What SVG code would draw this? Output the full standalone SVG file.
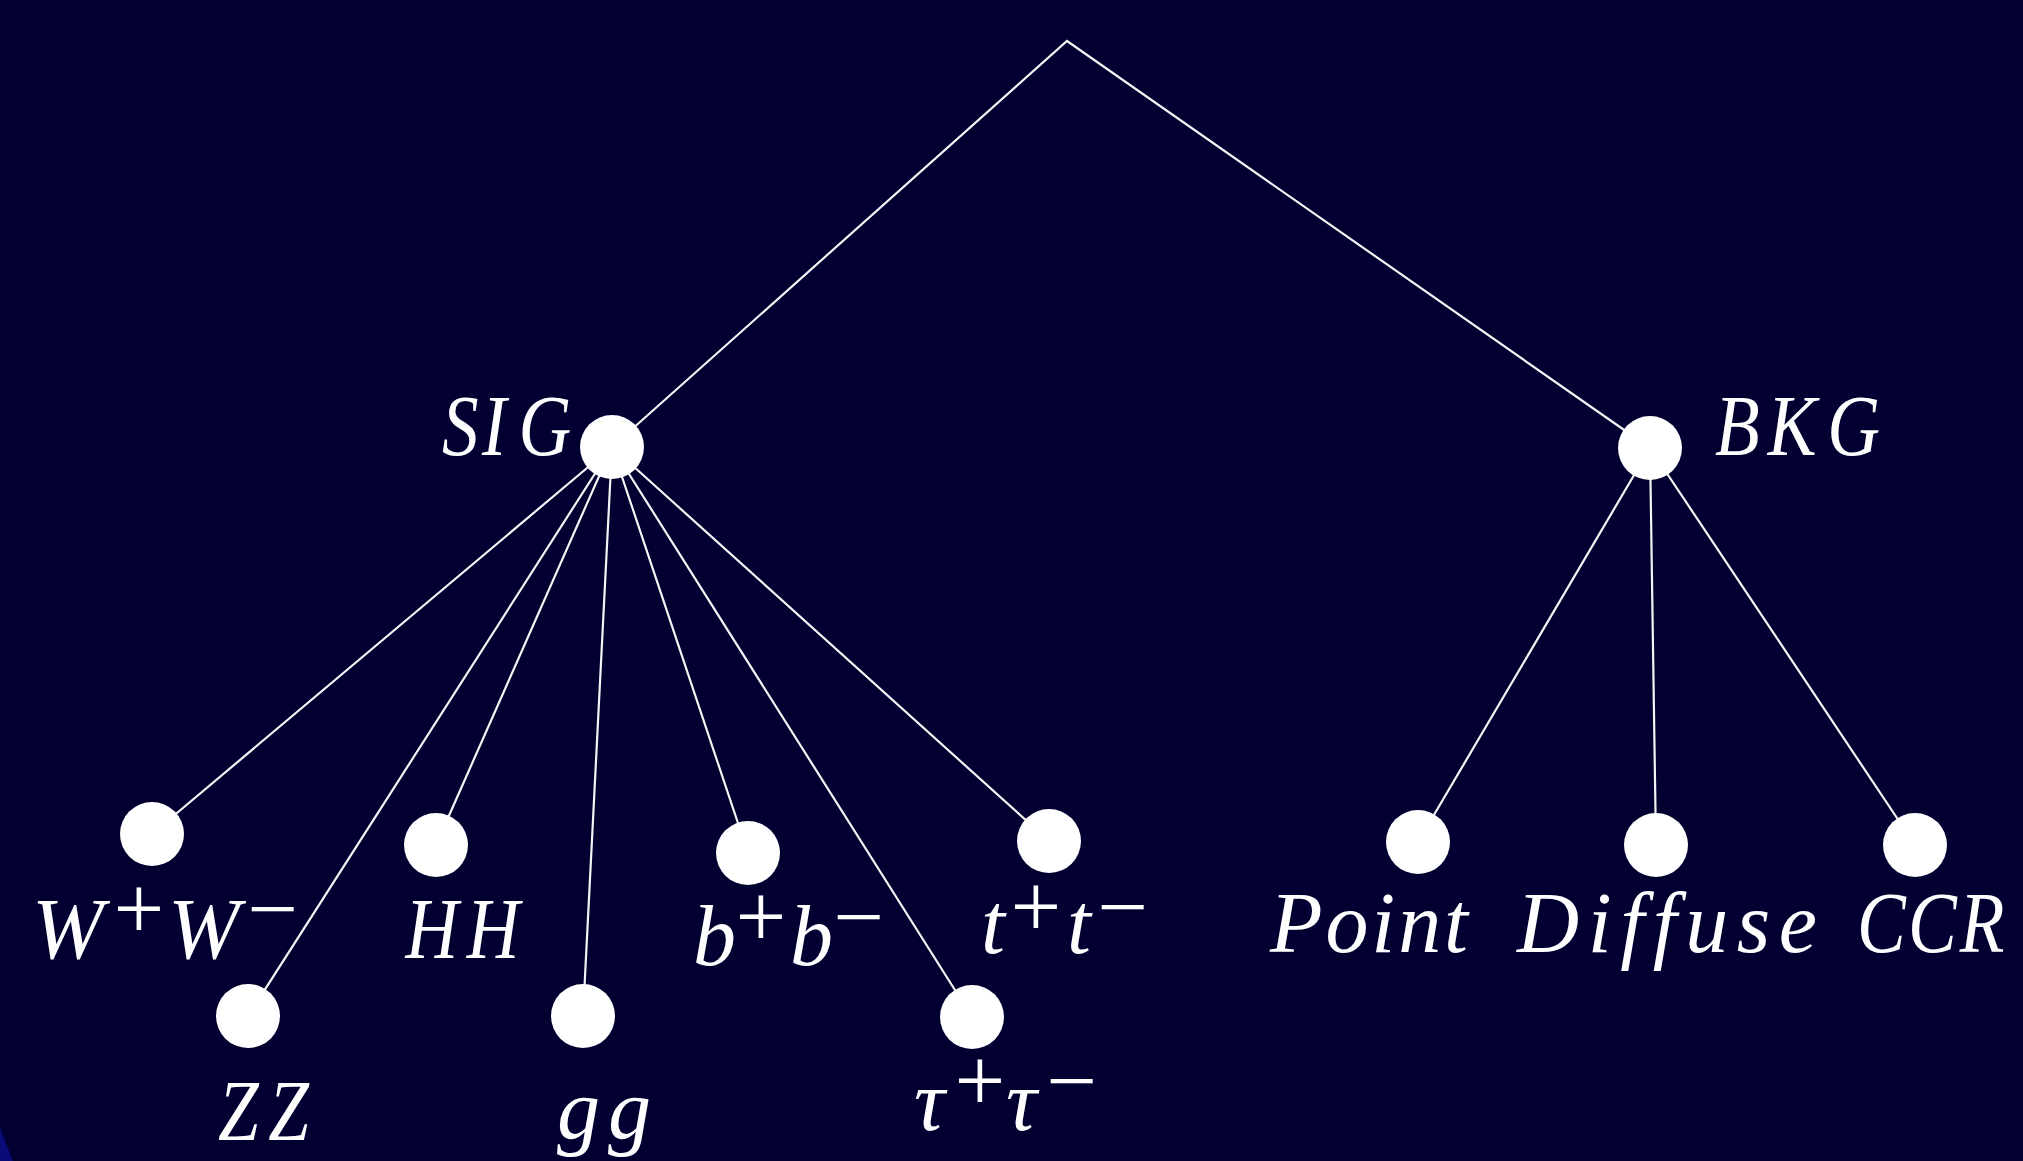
<svg xmlns="http://www.w3.org/2000/svg" width="2023" height="1161" viewBox="0 0 2023 1161">
  <defs>
    <style>
      .bg { fill: #010030; }
      .edge { stroke: #f4f4f4; stroke-width: 2.2; fill: none; stroke-linecap: round; }
      .dot { fill: #ffffff; }
      .lbl { font-family: "Liberation Serif", "DejaVu Serif", serif; font-style: italic; font-size: 86px; fill: #ffffff; }
      .cap { font-family: "Liberation Serif", "DejaVu Serif", serif; font-style: italic; font-size: 86px; fill: #ffffff; }
      .sup { font-family: "Liberation Serif", "DejaVu Serif", serif; font-style: normal; font-size: 90px; fill: #ffffff; text-anchor: middle; }
    </style>
  </defs>

  <!-- backdrop -->
  <rect class="bg" x="0" y="0" width="2023" height="1161"/>
  <polygon points="0,1128 13,1161 0,1161" fill="#0a0a78"/>

  <!-- connectors -->
  <g id="connectors" class="edge">
    <polyline points="612,447 1067,41 1650,448"/>
    <line x1="612" y1="447" x2="152" y2="834"/>
    <line x1="612" y1="447" x2="248" y2="1016"/>
    <line x1="612" y1="447" x2="436" y2="845"/>
    <line x1="612" y1="447" x2="583" y2="1016"/>
    <line x1="612" y1="447" x2="748" y2="853"/>
    <line x1="612" y1="447" x2="972" y2="1017"/>
    <line x1="612" y1="447" x2="1049" y2="841"/>
    <line x1="1650" y1="448" x2="1418" y2="842"/>
    <line x1="1650" y1="448" x2="1656" y2="845"/>
    <line x1="1650" y1="448" x2="1915" y2="845"/>
  </g>

  <!-- branch nodes -->
  <g id="sig">
    <circle class="dot" cx="612" cy="447" r="32"/>
    <text class="cap" transform="translate(442,455) scale(0.85,1)" x="0 47 90" y="0">SIG</text>
  </g>
  <g id="bkg">
    <circle class="dot" cx="1650" cy="448" r="32"/>
    <text class="cap" transform="translate(1715,455) scale(0.85,1)" x="0 62 132" y="0">BKG</text>
  </g>

  <!-- signal leaves -->
  <g id="ww">
    <circle class="dot" cx="152" cy="834" r="32"/>
    <text class="lbl" y="958"><tspan x="32">W</tspan><tspan x="168">W</tspan></text>
    <text class="sup" y="939"><tspan x="139">+</tspan><tspan x="273">−</tspan></text>
  </g>
  <g id="zz">
    <circle class="dot" cx="248" cy="1016" r="32"/>
    <text class="cap" transform="translate(218,1140) scale(0.85,1)" x="0 59" y="0">ZZ</text>
  </g>
  <g id="hh">
    <circle class="dot" cx="436" cy="845" r="32"/>
    <text class="cap" transform="translate(403,958) scale(0.85,1)" x="3 75" y="0">HH</text>
  </g>
  <g id="gg">
    <circle class="dot" cx="583" cy="1016" r="32"/>
    <text class="lbl" x="557" y="1138" textLength="94" lengthAdjust="spacing">gg</text>
  </g>
  <g id="bb">
    <circle class="dot" cx="748" cy="853" r="32"/>
    <text class="lbl" y="965"><tspan x="693">b</tspan><tspan x="790">b</tspan></text>
    <text class="sup" y="947"><tspan x="761">+</tspan><tspan x="859">−</tspan></text>
  </g>
  <g id="tautau">
    <circle class="dot" cx="972" cy="1017" r="32"/>
    <text class="lbl" y="1130"><tspan x="914">τ</tspan><tspan x="1006">τ</tspan></text>
    <text class="sup" y="1111"><tspan x="980">+</tspan><tspan x="1072">−</tspan></text>
  </g>
  <g id="tt">
    <circle class="dot" cx="1049" cy="841" r="32"/>
    <text class="lbl" y="953"><tspan x="981">t</tspan><tspan x="1067">t</tspan></text>
    <text class="sup" y="937"><tspan x="1036">+</tspan><tspan x="1123">−</tspan></text>
  </g>

  <!-- background leaves -->
  <g id="point">
    <circle class="dot" cx="1418" cy="842" r="32"/>
    <text class="lbl" x="1270" y="952" textLength="198" lengthAdjust="spacing">Point</text>
  </g>
  <g id="diffuse">
    <circle class="dot" cx="1656" cy="845" r="32"/>
    <text class="lbl" x="1517" y="952" textLength="300" lengthAdjust="spacing">Diffuse</text>
  </g>
  <g id="ccr">
    <circle class="dot" cx="1915" cy="845" r="32"/>
    <text class="cap" transform="translate(1862,952) scale(0.85,1)" x="-6 54 115" y="0">CCR</text>
  </g>
</svg>
